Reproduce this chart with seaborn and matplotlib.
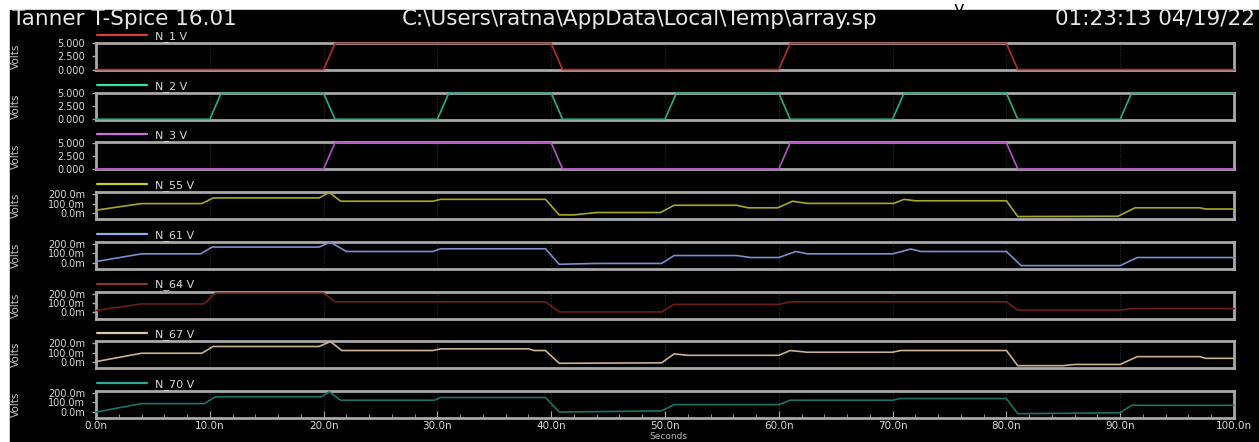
import numpy as np
import pandas as pd
import seaborn as sns
import matplotlib.pyplot as plt
from matplotlib.patches import Rectangle
from matplotlib.ticker import MultipleLocator, FixedLocator

# --- data (time in ns, digital in V, analog in mV) ---
t_n1 = [0, 20, 21, 40, 41, 60, 61, 80, 81, 100]
v_n1 = [0, 0, 5, 5, 0, 0, 5, 5, 0, 0]

t_n2 = [0, 10, 11, 20, 21, 30, 31, 40, 41, 50, 51, 60, 61, 70, 71, 80, 81, 90, 91, 100]
v_n2 = [0, 0, 5, 5, 0, 0, 5, 5, 0, 0, 5, 5, 0, 0, 5, 5, 0, 0, 5, 5]

t_n3 = [0, 20, 21, 40, 41, 60, 61, 80, 81, 100]
v_n3 = [0, 0, 5, 5, 0, 0, 5, 5, 0, 0]

t_n55 = [0, 4, 9.3, 10.3, 19.6, 20.5, 21.5, 29.6, 30.3, 39.5, 40.7, 42, 44, 49.6,
         50.8, 56.3, 57.3, 59.9, 61.2, 62.5, 70.1, 71, 72, 80, 81, 89.8, 91.3, 97, 97.5, 100]
v_n55 = [30, 100, 100, 160, 160, 218, 125, 125, 145, 145, -20, -20, 5, 5,
         82, 82, 55, 55, 125, 102, 102, 145, 130, 130, -38, -35, 55, 55, 42, 42]

t_n61 = [0, 4, 9.2, 10.2, 19.6, 20.6, 22, 29.6, 30.3, 39.5, 40.7, 44, 49.7, 50.8,
         56.3, 57.5, 60, 61.5, 62.5, 70, 71.6, 72.5, 80, 81.3, 90, 91.5, 100]
v_n61 = [12, 94, 94, 166, 166, 218, 119, 119, 148, 148, -17, -8, -8, 76,
         76, 55, 55, 119, 94, 94, 145, 119, 119, -31, -31, 55, 55]

t_n64 = [0, 4, 9.5, 10.5, 20, 21, 39.5, 40.7, 49.7, 50.8, 60, 61, 80, 81, 90, 91, 100]
v_n64 = [20, 90, 90, 205, 205, 112, 112, 5, 5, 85, 85, 112, 112, 25, 25, 40, 40]

t_n67 = [0, 4, 9.3, 10.3, 19.6, 20.6, 21.6, 29.6, 30.3, 38, 38.5, 39.5, 40.7, 49.7,
         50.8, 52, 60, 61, 62.5, 70, 70.7, 80, 81, 85, 86, 90, 91.5, 97, 97.5, 100]
v_n67 = [5, 94, 94, 166, 166, 218, 123, 123, 141, 141, 123, 123, -13, -8,
         87, 72, 72, 123, 105, 105, 123, 123, -38, -38, -25, -25, 58, 58, 40, 40]

t_n70 = [0, 4, 9.5, 10.5, 19.8, 20.5, 21.5, 29.7, 30.3, 39.5, 40.7, 49.7, 50.8,
         60, 61, 70, 70.7, 80, 81, 90, 91, 100]
v_n70 = [-3, 87, 87, 159, 159, 212, 123, 123, 152, 152, -3, 10, 76,
         76, 123, 123, 141, 141, -20, -10, 69, 69]

names = ["N_1 V", "N_2 V", "N_3 V", "N_55 V", "N_61 V", "N_64 V", "N_67 V", "N_70 V"]
times = [t_n1, t_n2, t_n3, t_n55, t_n61, t_n64, t_n67, t_n70]
values = [v_n1, v_n2, v_n3, v_n55, v_n61, v_n64, v_n67, v_n70]
digital = [True, True, True, False, False, False, False, False]

trace_colors = ["#b82c2c", "#22b08a", "#b452c4", "#a8a824", "#7c8cd0", "#6e1c1c", "#c8b292", "#1c7264"]
legend_colors = ["#d84040", "#34e0a8", "#d070dc", "#c8c834", "#98a8e8", "#8a3434", "#dcc6a8", "#34a898"]

xticks = [0, 10, 20, 30, 40, 50, 60, 70, 80, 90, 100]
xtick_labels = ["0.0n", "10.0n", "20.0n", "30.0n", "40.0n", "50.0n",
                "60.0n", "70.0n", "80.0n", "90.0n", "100.0n"]
dig_ticks = [0, 2.5, 5]
dig_labels = ["0.000", "2.500", "5.000"]
ana_ticks = [0, 100, 200]
ana_labels = ["0.0m", "100.0m", "200.0m"]

sns.set_style("dark", {"axes.facecolor": "black", "figure.facecolor": "white",
                       "grid.color": "#2c2c2c", "axes.edgecolor": "#a8a8a8"})
plt.rcParams['font.family'] = ['DejaVu Sans']

W, H = 1259, 442
fig = plt.figure(figsize=(W / 100, H / 100), dpi=100)
bg = Rectangle((10 / W, 0), 1 - 10 / W, 1 - 10 / H,
               transform=fig.transFigure, color="black", zorder=-10)
fig.patches.append(bg)
fig.text(0.757, 1.0, "y", ha="left", va="top", fontsize=13, color="black")

title_kw = dict(va="center", fontsize=15.5, color="#e8e8e8")
fig.text(12 / W, 1 - 19 / H, "Tanner T-Spice 16.01", ha="left", **title_kw)
fig.text(640 / W, 1 - 19 / H, r"C:\Users\ratna\AppData\Local\Temp\array.sp",
         ha="center", **title_kw)
fig.text(1255 / W, 1 - 19 / H, "01:23:13 04/19/22", ha="right", **title_kw)

left, right = 96, 1234
for i in range(8):
    top = 43 + 49.7 * i
    ax = fig.add_axes([left / W, 1 - (top + 27) / H, (right - left) / W, 27 / H])
    df = pd.DataFrame({"t": times[i], "v": values[i]})
    sns.lineplot(data=df, x="t", y="v", ax=ax, color=trace_colors[i], lw=1.2,
                 estimator=None, sort=False, label=names[i], zorder=3, clip_on=False)
    ax.set_xlim(0, 100)
    if digital[i]:
        ax.set_ylim(-0.08, 5.08)
        ax.yaxis.set_major_locator(FixedLocator(dig_ticks))
        ax.set_yticklabels(dig_labels)
    else:
        ax.set_ylim(-65, 222)
        ax.yaxis.set_major_locator(FixedLocator(ana_ticks))
        ax.set_yticklabels(ana_labels)
    ax.xaxis.set_major_locator(FixedLocator(xticks))
    ax.grid(True, axis="x", color="#303030", lw=0.8, ls=":")
    ax.grid(False, axis="y")
    for s in ax.spines.values():
        s.set_color("#a8a8a8")
        s.set_linewidth(2)
    ax.tick_params(axis="y", colors="#a8a8a8", labelcolor="#d8d8d8", labelsize=7,
                   length=3, width=1, left=True, pad=5)
    ax.set_xlabel("")
    ax.set_ylabel("")
    if i == 7:
        ax.set_xticklabels(xtick_labels)
        ax.xaxis.set_minor_locator(MultipleLocator(2))
        ax.tick_params(axis="x", which="both", direction="in", colors="#a8a8a8",
                       labelcolor="#d8d8d8", labelsize=7.5, bottom=True, pad=2)
        ax.tick_params(axis="x", which="major", length=5)
        ax.tick_params(axis="x", which="minor", length=3)
    else:
        ax.set_xticklabels([])
        ax.tick_params(axis="x", bottom=False)
    leg = ax.legend(loc="lower left", bbox_to_anchor=(0, 1.0), frameon=False,
                    borderpad=0, borderaxespad=0.1, handlelength=4.5, handletextpad=0.7,
                    fontsize=8)
    leg.get_lines()[0].set_color(legend_colors[i])
    leg.get_lines()[0].set_linewidth(1.6)
    for txt in leg.get_texts():
        txt.set_color("#d8d8d8")
    fig.text(16 / W, 1 - (top + 13.5) / H, "Volts", rotation=90, ha="center",
             va="center", fontsize=7.5, color="#c8c8c8")

fig.text(668 / W, 1 - 436.5 / H, "Seconds", ha="center", va="center",
         fontsize=6.5, color="#b8b8b8")

fig.savefig("out.png", dpi=100)
